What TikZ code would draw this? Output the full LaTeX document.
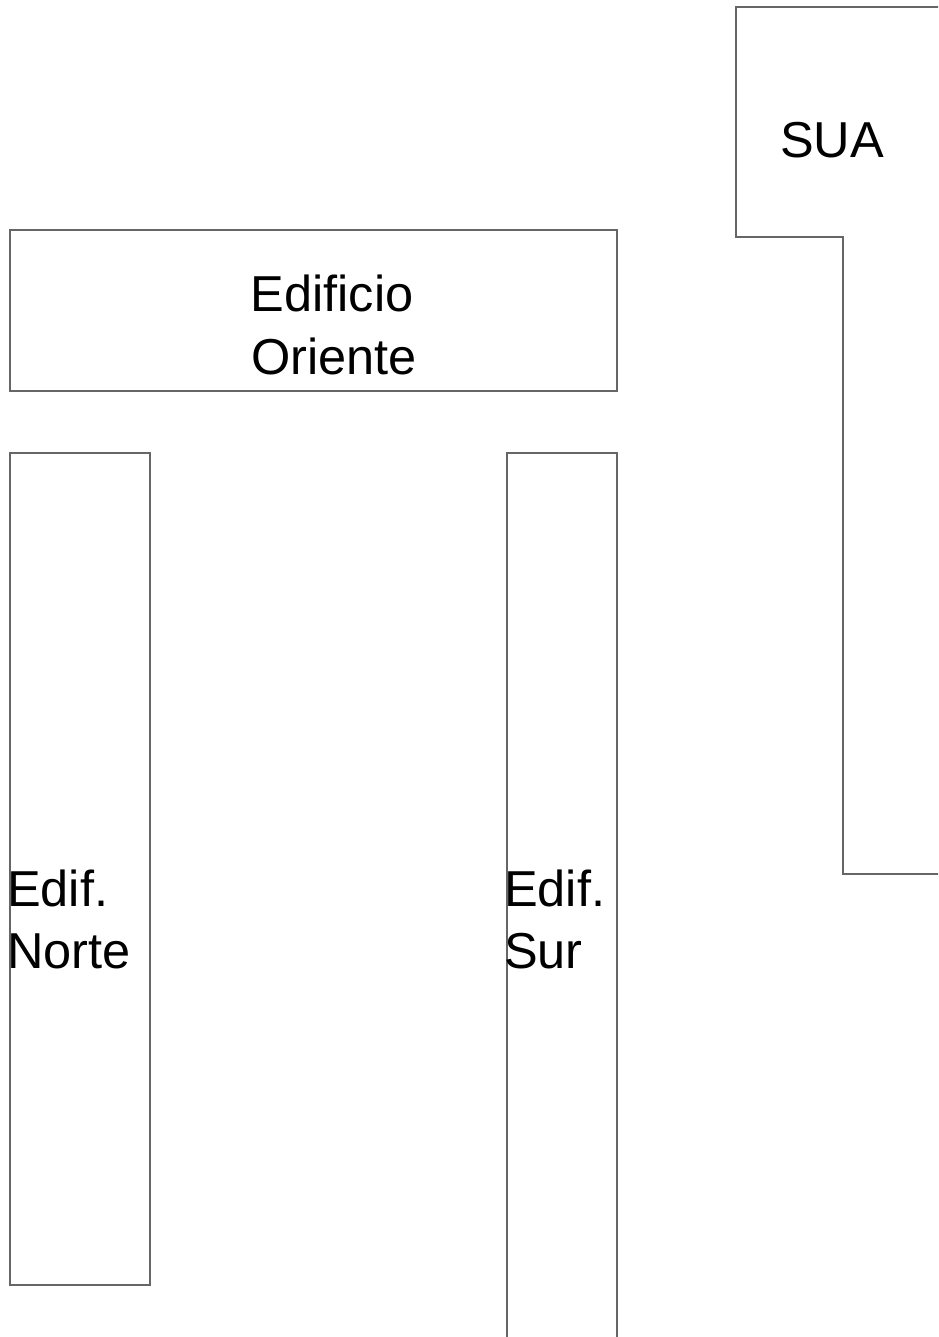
\documentclass[tikz,border=0pt]{standalone}
\usepackage{fontspec}
\setmainfont{Liberation Sans}
\begin{document}
\begin{tikzpicture}[x=1pt,y=-1pt,
  wall/.style={draw=black!60, line width=1.5pt, line join=miter},
  lbl/.style={inner sep=0pt, font=\fontsize{50.5}{62}\selectfont, text=black}]
\useasboundingbox (0,0) rectangle (938,1337);
\begin{scope}
\clip (0,0) rectangle (938,1337);
% SUA
\draw[wall] (950,7) -- (736,7) -- (736,237) -- (843,237) -- (843,874) -- (950,874);
% Edificio Oriente
\draw[wall] (10,230) rectangle (617,391);
% Edif. Norte
\draw[wall] (10,453) rectangle (150,1285);
% Edif. Sur
\draw[wall] (507,1360) -- (507,453) -- (617,453) -- (617,1360);
\end{scope}
\node[lbl, anchor=base west] (sua) at (780,158) {SUA};
\node[lbl, anchor=base] (ori1) at (332,312) {Edificio};
\node[lbl, anchor=base] (ori2) at (334,374) {Oriente};
\node[lbl, anchor=base west] (nor1) at (7,906) {Edif.};
\node[lbl, anchor=base west] (nor2) at (7,968) {Norte};
\node[lbl, anchor=base west] (sur1) at (504,906) {Edif.};
\node[lbl, anchor=base west] (sur2) at (504,968) {Sur};
\end{tikzpicture}
\end{document}
